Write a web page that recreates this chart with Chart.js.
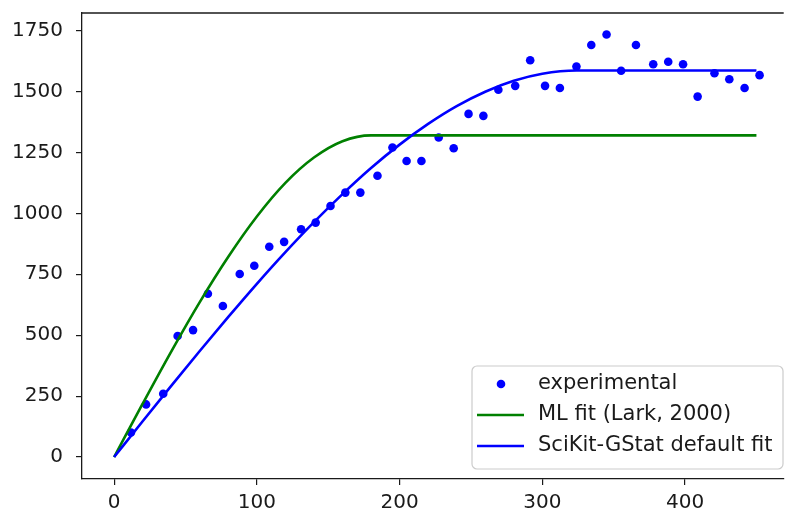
<!DOCTYPE html>
<html>
<head>
<meta charset="utf-8">
<script src="https://cdn.jsdelivr.net/npm/chart.js@4"></script>
<style>
  html, body { margin: 0; padding: 0; background: #fff; overflow: hidden; }
  #wrap { width: 788px; height: 515px; position: relative; }
</style>
</head>
<body>
<div id="wrap"><canvas id="chart" width="788" height="515"></canvas></div>
<script>
// experimental variogram (lag, semivariance)
const lags = [11.8, 22.4, 34.4, 44.5, 55.3, 65.7, 76.2, 88.0, 98.2, 108.7,
  119.1, 131.0, 141.2, 151.6, 162.0, 172.5, 184.5, 195.0, 204.9, 215.3,
  227.4, 237.9, 248.3, 258.7, 269.2, 281.0, 291.5, 301.9, 312.3, 323.9,
  334.3, 345.0, 355.2, 365.6, 377.7, 388.2, 398.6, 408.8, 420.6, 431.0,
  441.7, 452.2];
const semivar = [101, 216, 260, 497, 521, 670, 620, 751, 785, 863,
  883, 935, 962, 1030, 1085, 1085, 1154, 1270, 1215, 1215,
  1311, 1267, 1408, 1400, 1507, 1523, 1628, 1523, 1514, 1602,
  1691, 1734, 1585, 1691, 1612, 1622, 1612, 1479, 1575, 1550,
  1514, 1567];

// ML fit (Lark, 2000)
const mlX = [0, 20, 40, 60, 80, 100, 120, 140, 160, 180, 450];
const mlY = [0, 219, 433, 636, 822, 987, 1125, 1229, 1296, 1320, 1320];

// SciKit-GStat default fit
const skgX = [0, 20, 40, 60, 80, 100, 120, 140, 160, 180, 200, 220, 240, 260, 280, 300, 324, 450];
const skgY = [0, 147, 292, 435, 575, 711, 841, 964, 1079, 1186, 1282, 1367, 1440, 1499, 1544, 1573, 1586, 1586];

const xTicks = [0, 100, 200, 300, 400];
const yTicks = [0, 250, 500, 750, 1000, 1250, 1500, 1750];

const legendLabels = ['experimental', 'ML fit (Lark, 2000)', 'SciKit-GStat default fit'];

const FONT = 'DejaVu Sans';
const AXIS = '#1a1a1a';

function toPoints(xs, ys) {
  return xs.map((x, i) => ({ x: x, y: ys[i] }));
}

// top spine + matplotlib-like legend box
const framePlugin = {
  id: 'frame',
  afterDraw(chart) {
    const ctx = chart.ctx;
    const a = chart.chartArea;
    ctx.save();
    ctx.strokeStyle = AXIS;
    ctx.lineWidth = 1.3;
    ctx.beginPath();
    ctx.moveTo(a.left, a.top);
    ctx.lineTo(a.right, a.top);
    ctx.stroke();

    // legend
    const bx = 472, by = 366, bw = 311, bh = 103, r = 5;
    ctx.fillStyle = 'rgba(255,255,255,0.8)';
    ctx.strokeStyle = '#cccccc';
    ctx.lineWidth = 1.2;
    ctx.beginPath();
    ctx.moveTo(bx + r, by);
    ctx.arcTo(bx + bw, by, bx + bw, by + bh, r);
    ctx.arcTo(bx + bw, by + bh, bx, by + bh, r);
    ctx.arcTo(bx, by + bh, bx, by, r);
    ctx.arcTo(bx, by, bx + bw, by, r);
    ctx.closePath();
    ctx.fill();
    ctx.stroke();

    const rows = [384, 415, 446];
    const ds = chart.data.datasets;
    ctx.fillStyle = ds[0].backgroundColor;
    ctx.beginPath();
    ctx.arc(501, rows[0], 4.3, 0, Math.PI * 2);
    ctx.fill();
    ctx.lineWidth = 2.6;
    ctx.strokeStyle = ds[1].borderColor;
    ctx.beginPath(); ctx.moveTo(477, rows[1]); ctx.lineTo(524, rows[1]); ctx.stroke();
    ctx.strokeStyle = ds[2].borderColor;
    ctx.beginPath(); ctx.moveTo(477, rows[2]); ctx.lineTo(524, rows[2]); ctx.stroke();

    ctx.fillStyle = AXIS;
    ctx.font = '21px "' + FONT + '"';
    ctx.textBaseline = 'middle';
    ctx.textAlign = 'left';
    legendLabels.forEach((t, i) => ctx.fillText(t, 538, rows[i]));
    ctx.restore();
  }
};

new Chart(document.getElementById('chart').getContext('2d'), {
  type: 'scatter',
  data: {
    datasets: [{
      label: legendLabels[0],
      data: toPoints(lags, semivar),
      backgroundColor: '#0000ff',
      borderColor: '#0000ff',
      pointRadius: 4.3,
      pointBorderWidth: 0,
      showLine: false,
      order: 3
    }, {
      label: legendLabels[1],
      data: toPoints(mlX, mlY),
      borderColor: '#008000',
      borderWidth: 2.6,
      pointRadius: 0,
      showLine: true,
      cubicInterpolationMode: 'monotone',
      order: 2
    }, {
      label: legendLabels[2],
      data: toPoints(skgX, skgY),
      borderColor: '#0000ff',
      borderWidth: 2.6,
      pointRadius: 0,
      showLine: true,
      cubicInterpolationMode: 'monotone',
      order: 1
    }]
  },
  options: {
    responsive: false,
    animation: false,
    events: [],
    layout: { padding: { top: 13, right: 0, left: 0, bottom: 0 } },
    plugins: { legend: { display: false }, tooltip: { enabled: false } },
    scales: {
      x: {
        type: 'linear',
        min: -22.5,
        max: 469.1,
        afterBuildTicks: (s) => { s.ticks = xTicks.map(v => ({ value: v })); },
        afterFit: (s) => { s.height = 36; s.paddingLeft = 0; s.paddingRight = 0; },
        grid: { drawOnChartArea: false, drawTicks: true, tickLength: 6, color: AXIS, lineWidth: 1.2 },
        border: { display: true, color: AXIS, width: 1.3 },
        ticks: { color: AXIS, font: { family: FONT, size: 20 }, padding: 6, maxRotation: 0,
          callback: (v) => String(v) }
      },
      y: {
        min: -90,
        max: 1822,
        afterBuildTicks: (s) => { s.ticks = yTicks.map(v => ({ value: v })); },
        afterFit: (s) => { s.width = 82; s.paddingTop = 0; s.paddingBottom = 0; },
        grid: { drawOnChartArea: false, drawTicks: true, tickLength: 6, color: AXIS, lineWidth: 1.2 },
        border: { display: true, color: AXIS, width: 1.3 },
        ticks: { color: AXIS, font: { family: FONT, size: 20 }, padding: 13,
          callback: (v) => String(v) }
      }
    }
  },
  plugins: [framePlugin]
});
</script>
</body>
</html>
